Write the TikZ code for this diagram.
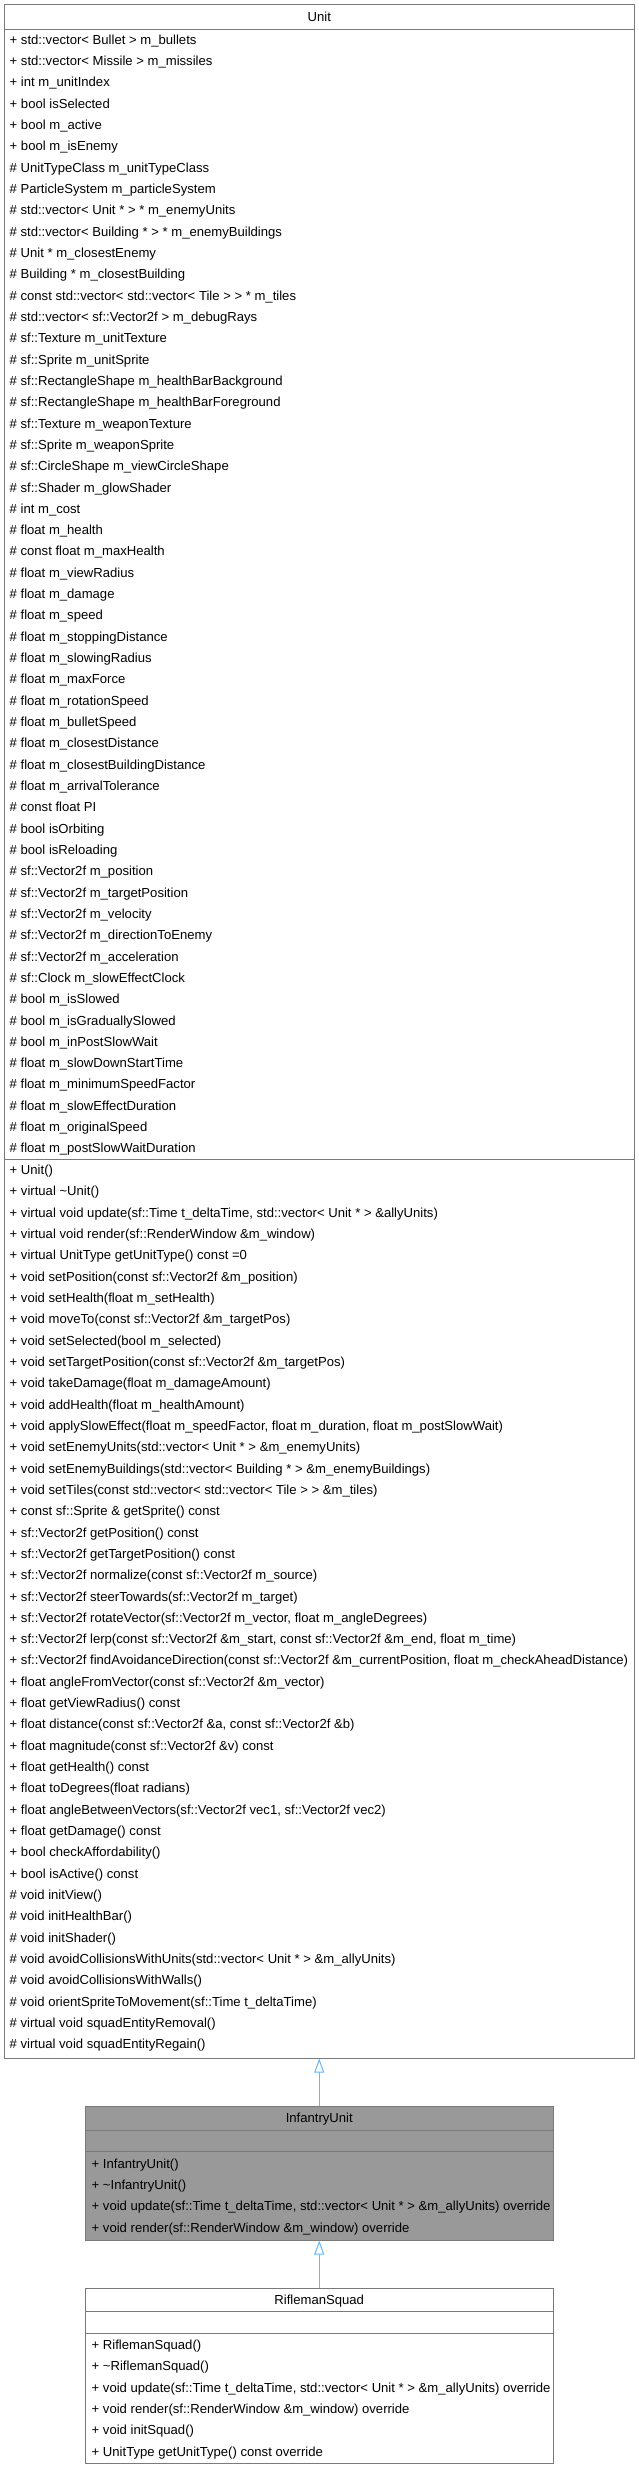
\documentclass[tikz,border=0pt]{standalone}
\usepackage{fontspec}
\setmainfont{Liberation Sans}
\usetikzlibrary{arrows.meta}

\definecolor{boxgray}{HTML}{7A7A7A}
\definecolor{highgray}{HTML}{999999}
\definecolor{inherblue}{HTML}{63B8FF}

\begin{document}
\begin{tikzpicture}
[
	x	= 1pt,	% one unit is one pixel of the diagram
	y	= -1pt,	% y runs downwards, row after row
	%
	%
	% ----------- options for the class boxes --------------
	classbox/.style =
	{
		draw		= boxgray,
		line width	= 1pt,
		fill		= white,
		rectangle,
		inner sep	= 0pt
	},
	%
	classtitle/.style =
	{
		anchor		= base,
		inner sep	= 0pt,
		font		= \fontsize{13.1pt}{16pt}\selectfont
	},
	%
	member/.style =
	{
		anchor		= base west,
		inner sep	= 0pt,
		font		= \fontsize{13.1pt}{16pt}\selectfont
	},
	%
	separator/.style =
	{
		draw		= boxgray,
		line width	= 1pt
	},
	%
	inherit/.style =
	{
		draw		= inherblue,
		line width	= 1pt,
		-{Triangle[open, length=14pt, width=10pt, fill=white]}
	}
]

\useasboundingbox (0,0) rectangle (639,2469);

% class boxes
\node [classbox, minimum width = 629.5, minimum height = 2053.5] (unit) at (319.25,1031.25) {};
\node [classbox, minimum width = 467.5, minimum height = 133.3, fill = highgray] (infantry) at (319.25,2173.35) {};
\node [classbox, minimum width = 467.5, minimum height = 175.5] (rifleman) at (319.25,2375.75) {};

% compartments
\draw [separator] (unit.west |- 0,29) -- (unit.east |- 0,29);
\draw [separator] (unit.west |- 0,1159) -- (unit.east |- 0,1159);
\draw [separator] (infantry.west |- 0,2130.3) -- (infantry.east |- 0,2130.3);
\draw [separator] (infantry.west |- 0,2151.7) -- (infantry.east |- 0,2151.7);
\draw [separator] (rifleman.west |- 0,2311.7) -- (rifleman.east |- 0,2311.7);
\draw [separator] (rifleman.west |- 0,2333.1) -- (rifleman.east |- 0,2333.1);

% titles
\node [classtitle] (unit-title) at (319.25,21.5) {Unit};
\node [classtitle] (infantry-title) at (319.25,2122.8) {InfantryUnit};
\node [classtitle] (rifleman-title) at (319.25,2304.2) {RiflemanSquad};

% Unit attributes
\foreach \txt [count=\i] in
{
	{+ std::vector< Bullet > m\_bullets},
	{+ std::vector< Missile > m\_missiles},
	{+ int m\_unitIndex},
	{+ bool isSelected},
	{+ bool m\_active},
	{+ bool m\_isEnemy},
	{\# UnitTypeClass m\_unitTypeClass},
	{\# ParticleSystem m\_particleSystem},
	{\# std::vector< Unit * > * m\_enemyUnits},
	{\# std::vector< Building * > * m\_enemyBuildings},
	{\# Unit * m\_closestEnemy},
	{\# Building * m\_closestBuilding},
	{\# const std::vector< std::vector< Tile > > * m\_tiles},
	{\# std::vector< sf::Vector2f > m\_debugRays},
	{\# sf::Texture m\_unitTexture},
	{\# sf::Sprite m\_unitSprite},
	{\# sf::RectangleShape m\_healthBarBackground},
	{\# sf::RectangleShape m\_healthBarForeground},
	{\# sf::Texture m\_weaponTexture},
	{\# sf::Sprite m\_weaponSprite},
	{\# sf::CircleShape m\_viewCircleShape},
	{\# sf::Shader m\_glowShader},
	{\# int m\_cost},
	{\# float m\_health},
	{\# const float m\_maxHealth},
	{\# float m\_viewRadius},
	{\# float m\_damage},
	{\# float m\_speed},
	{\# float m\_stoppingDistance},
	{\# float m\_slowingRadius},
	{\# float m\_maxForce},
	{\# float m\_rotationSpeed},
	{\# float m\_bulletSpeed},
	{\# float m\_closestDistance},
	{\# float m\_closestBuildingDistance},
	{\# float m\_arrivalTolerance},
	{\# const float PI},
	{\# bool isOrbiting},
	{\# bool isReloading},
	{\# sf::Vector2f m\_position},
	{\# sf::Vector2f m\_targetPosition},
	{\# sf::Vector2f m\_velocity},
	{\# sf::Vector2f m\_directionToEnemy},
	{\# sf::Vector2f m\_acceleration},
	{\# sf::Clock m\_slowEffectClock},
	{\# bool m\_isSlowed},
	{\# bool m\_isGraduallySlowed},
	{\# bool m\_inPostSlowWait},
	{\# float m\_slowDownStartTime},
	{\# float m\_minimumSpeedFactor},
	{\# float m\_slowEffectDuration},
	{\# float m\_originalSpeed},
	{\# float m\_postSlowWaitDuration}
}
	\node [member] (unit-attr-\i) at (9.5,{44.3 + 21.32*(\i-1)}) {\txt};

% Unit methods
\foreach \txt [count=\i] in
{
	{+ Unit()},
	{+ virtual \textasciitilde Unit()},
	{+ virtual void update(sf::Time t\_deltaTime, std::vector< Unit * > \&allyUnits)},
	{+ virtual void render(sf::RenderWindow \&m\_window)},
	{+ virtual UnitType getUnitType() const =0},
	{+ void setPosition(const sf::Vector2f \&m\_position)},
	{+ void setHealth(float m\_setHealth)},
	{+ void moveTo(const sf::Vector2f \&m\_targetPos)},
	{+ void setSelected(bool m\_selected)},
	{+ void setTargetPosition(const sf::Vector2f \&m\_targetPos)},
	{+ void takeDamage(float m\_damageAmount)},
	{+ void addHealth(float m\_healthAmount)},
	{+ void applySlowEffect(float m\_speedFactor, float m\_duration, float m\_postSlowWait)},
	{+ void setEnemyUnits(std::vector< Unit * > \&m\_enemyUnits)},
	{+ void setEnemyBuildings(std::vector< Building * > \&m\_enemyBuildings)},
	{+ void setTiles(const std::vector< std::vector< Tile > > \&m\_tiles)},
	{+ const sf::Sprite \& getSprite() const},
	{+ sf::Vector2f getPosition() const},
	{+ sf::Vector2f getTargetPosition() const},
	{+ sf::Vector2f normalize(const sf::Vector2f m\_source)},
	{+ sf::Vector2f steerTowards(sf::Vector2f m\_target)},
	{+ sf::Vector2f rotateVector(sf::Vector2f m\_vector, float m\_angleDegrees)},
	{+ sf::Vector2f lerp(const sf::Vector2f \&m\_start, const sf::Vector2f \&m\_end, float m\_time)},
	{+ sf::Vector2f findAvoidanceDirection(const sf::Vector2f \&m\_currentPosition, float m\_checkAheadDistance)},
	{+ float angleFromVector(const sf::Vector2f \&m\_vector)},
	{+ float getViewRadius() const},
	{+ float distance(const sf::Vector2f \&a, const sf::Vector2f \&b)},
	{+ float magnitude(const sf::Vector2f \&v) const},
	{+ float getHealth() const},
	{+ float toDegrees(float radians)},
	{+ float angleBetweenVectors(sf::Vector2f vec1, sf::Vector2f vec2)},
	{+ float getDamage() const},
	{+ bool checkAffordability()},
	{+ bool isActive() const},
	{\# void initView()},
	{\# void initHealthBar()},
	{\# void initShader()},
	{\# void avoidCollisionsWithUnits(std::vector< Unit * > \&m\_allyUnits)},
	{\# void avoidCollisionsWithWalls()},
	{\# void orientSpriteToMovement(sf::Time t\_deltaTime)},
	{\# virtual void squadEntityRemoval()},
	{\# virtual void squadEntityRegain()}
}
	\node [member] (unit-meth-\i) at (9.5,{1174.6 + 21.32*(\i-1)}) {\txt};

% InfantryUnit methods
\foreach \txt [count=\i] in
{
	{+ InfantryUnit()},
	{+ \textasciitilde InfantryUnit()},
	{+ void update(sf::Time t\_deltaTime, std::vector< Unit * > \&m\_allyUnits) override},
	{+ void render(sf::RenderWindow \&m\_window) override}
}
	\node [member] (infantry-meth-\i) at (91.5,{2168.3 + 21.32*(\i-1)}) {\txt};

% RiflemanSquad methods
\foreach \txt [count=\i] in
{
	{+ RiflemanSquad()},
	{+ \textasciitilde RiflemanSquad()},
	{+ void update(sf::Time t\_deltaTime, std::vector< Unit * > \&m\_allyUnits) override},
	{+ void render(sf::RenderWindow \&m\_window) override},
	{+ void initSquad()},
	{+ UnitType getUnitType() const override}
}
	\node [member] (rifleman-meth-\i) at (91.5,{2349.5 + 21.32*(\i-1)}) {\txt};

% inheritance
\draw [inherit] (infantry.north) -- (unit.south);
\draw [inherit] (rifleman.north) -- (infantry.south);

\end{tikzpicture}
\end{document}
